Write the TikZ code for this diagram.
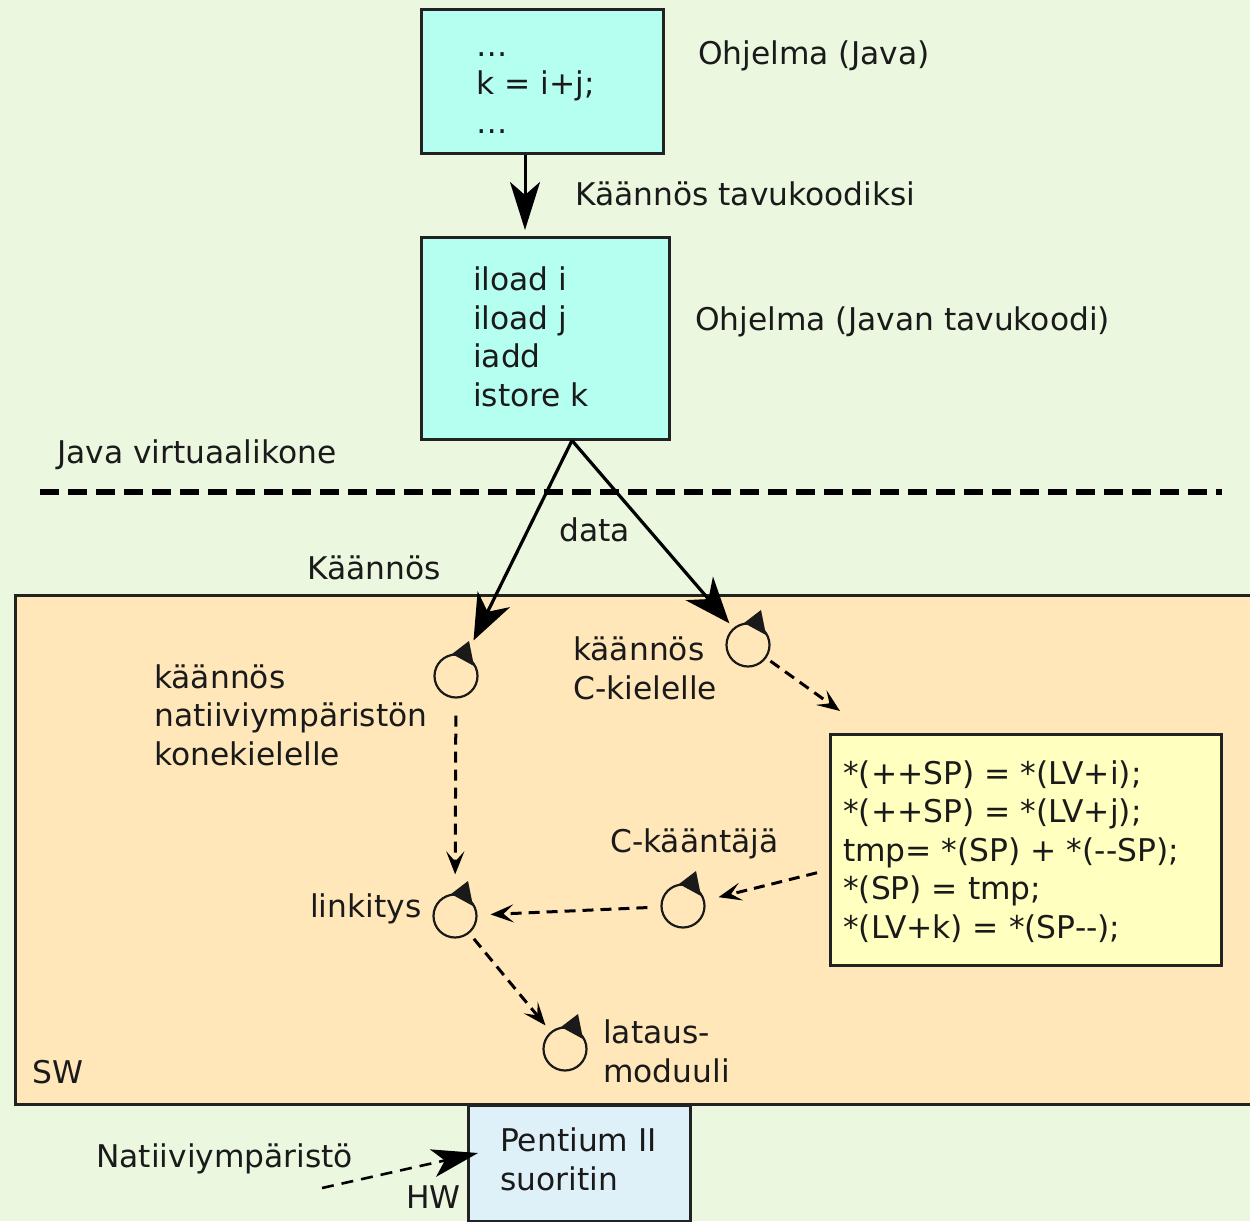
\documentclass[tikz,border=0pt]{standalone}
\usepackage{fontspec}
\setmainfont{DejaVu Sans}
\usetikzlibrary{arrows.meta,calc}
\definecolor{bg}{HTML}{EBF7DF}
\definecolor{swfill}{HTML}{FFE7B9}
\definecolor{cyanfill}{HTML}{B5FFF1}
\definecolor{yelfill}{HTML}{FFFFC0}
\definecolor{hwfill}{HTML}{DFF1F8}
\definecolor{bord}{HTML}{222222}
\definecolor{txt}{HTML}{1A1A1A}
\tikzset{
  box/.style={draw=bord, line width=2.5pt, anchor=north west, inner sep=0pt, rectangle},
  lbl/.style={anchor=base west, align=left, inner sep=0pt, text=txt,
              font=\fontsize{31.3}{38.5}\selectfont},
  proc/.style={circle, draw=txt, line width=2.2pt, minimum size=43pt, inner sep=0pt},
  bigarrow/.style={draw=black, line width=3.2pt, -{Stealth[length=46pt,width=36pt,inset=14pt]}},
  toparrow/.style={draw=black, line width=3pt, -{Stealth[length=48pt,width=30pt,inset=13pt]}},
  dasharrow/.style={draw=black, line width=3pt, dash pattern=on 11pt off 7pt,
              -{Stealth[length=23pt,width=18pt,inset=10pt]}},
  hwarrow/.style={draw=black, line width=2.6pt, dash pattern=on 12pt off 8pt,
              -{Stealth[length=46pt,width=28pt,inset=12pt]}},
}
\newcommand\procicon[3]{%
  \node[proc] (#1) at (#2,#3) {};
  \fill[txt] ($(#1)+(-4,-22)$) -- ($(#1)+(18,-10)$) -- ($(#1)+(13,-35)$) -- cycle;}
\begin{document}
\begin{tikzpicture}[x=1pt,y=-1pt]
\useasboundingbox (0,0) rectangle (1250,1221);
\fill[bg] (0,0) rectangle (1250,1221);

% SW area
\node[box, fill=swfill, minimum width=1250pt, minimum height=509pt] (sw) at (14,594) {};
% HW box
\node[box, fill=hwfill, minimum width=222pt, minimum height=116pt] (hw) at (467,1104) {};

% top boxes
\node[box, fill=cyanfill, minimum width=242pt, minimum height=144pt] (b1) at (420,8) {};
\node[box, fill=cyanfill, minimum width=248pt, minimum height=202pt] (b2) at (420,236) {};
\node[box, fill=yelfill, minimum width=391pt, minimum height=231pt] (yb) at (829,733) {};

% dashed separator
\draw[line width=6.5pt, dash pattern=on 19pt off 9pt] (40,492) -- (1222,492);

% texts (multi-line nodes anchored at the baseline of their last line)
\node[lbl] (t1) at (476,133) {…\\k = i+j;\\…};
\node[lbl] (ohj1) at (698,64) {Ohjelma (Java)};
\node[lbl] (kt) at (575,205) {Käännös tavukoodiksi};
\node[lbl] (t2) at (473,406) {iload i\\iload j\\iadd\\istore k};
\node[lbl] (ohj2) at (695,330) {Ohjelma (Javan tavukoodi)};
\node[lbl] (jvm) at (57,463) {Java virtuaalikone};
\node[lbl] (data) at (559,541) {data};
\node[lbl] (kaan) at (307,579) {Käännös};
\node[lbl] (nat) at (154,765) {käännös\\natiiviympäristön\\konekielelle};
\node[lbl] (ck) at (573,699) {käännös\\C-kielelle};
\node[lbl] (yt) at (843,938) {*(++SP) = *(LV+i);\\*(++SP) = *(LV+j);\\tmp= *(SP) + *(-{}-SP);\\*(SP) = tmp;\\*(LV+k) = *(SP-{}-);};
\node[lbl] (ckj) at (610,852) {C-kääntäjä};
\node[lbl] (link) at (310,917) {linkitys};
\node[lbl] (lat) at (603,1082) {lataus-\\moduuli};
\node[lbl] (swl) at (32,1083) {SW};
\node[lbl] (pt) at (500,1190) {Pentium II\\suoritin};
\node[lbl] (natv) at (96,1167) {Natiiviympäristö};
\node[lbl] (hwl) at (406,1208) {HW};

% process icons
\procicon{p1}{456}{676}
\procicon{p2}{748}{645}
\procicon{p3}{455}{916}
\procicon{p4}{683}{906}
\procicon{p5}{565}{1049}

% arrows
\draw[toparrow] ($(b1.south west)+(105,0)$) -- ($(b2.north west)+(105,-6)$);
\coordinate (b2s) at ($(b2.south west)+(152,0)$);
\draw[bigarrow, shorten >=17pt] (b2s) -- (p1);
\draw[bigarrow, shorten >=6pt] (b2s) -- (p2);

\draw[dasharrow, shorten <=5pt] (p2) -- ($(yb.north west)+(11,-22)$);
\draw[dasharrow, shorten <=17pt, shorten >=19pt] (p1) -- (p3);
\draw[dasharrow, shorten >=14pt] ($(yb.west)+(-12,23)$) -- (p4);
\draw[dasharrow, shorten <=13pt, shorten >=13pt] (p4) -- (p3);
\draw[dasharrow, shorten <=7pt, shorten >=8pt] (p3) -- (p5);

\coordinate (hs) at (322,1188);
\draw[hwarrow] (hs) -- ($(hw.north west)+(11,49)$);
\end{tikzpicture}
\end{document}
